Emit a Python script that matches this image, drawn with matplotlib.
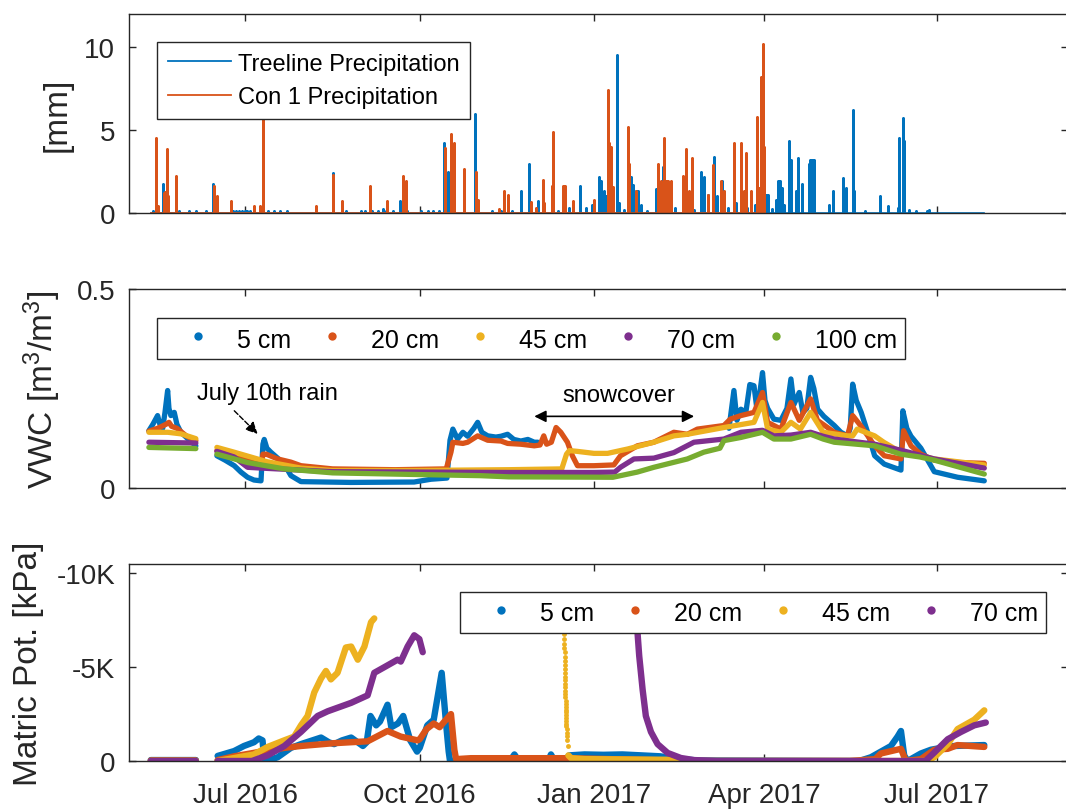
import numpy as np
import matplotlib
matplotlib.use("Agg")
import matplotlib.pyplot as plt
import matplotlib.dates as mdates
from matplotlib.lines import Line2D

plt.rcParams['font.family'] = ['Liberation Sans', 'DejaVu Sans']
plt.rcParams['mathtext.fontset'] = 'custom'
plt.rcParams['mathtext.rm'] = 'Liberation Sans'
plt.rcParams['mathtext.it'] = 'Liberation Sans:italic'

# All "day" values are days since this date
START = np.datetime64('2016-05-01')
nan = np.nan

# ---------------- Precipitation [mm] ----------------
treeline_record = [11.0, 450.2]
treeline_day = [12.0, 14.0, 17.3, 26.0, 31.0, 35.0, 40.0, 44.0, 54.5, 56.0, 57.5, 59.0, 60.5, 62.0,
                63.5, 73.0, 76.0, 79.0, 83.0, 107.3, 114.0, 122.0, 124.0, 128.0, 131.0, 133.5, 135.0,
                138.8, 142.6, 146.5, 153.6, 157.5, 160.0, 163.0, 166.0, 167.9, 176.5, 182.2, 191.0,
                196.0, 197.5, 201.6, 206.4, 210.8, 215.3, 218.0, 226.0, 232.0, 237.8, 241.0, 244.0,
                247.8, 248.7, 250.3, 251.5, 257.1, 258.3, 261.0, 264.5, 265.6, 267.2, 268.2, 270.0,
                273.0, 277.7, 279.5, 281.3, 283.0, 288.0, 294.0, 298.0, 301.5, 303.0, 305.0, 308.5,
                310.0, 312.4, 316.0, 320.0, 326.0, 330.0, 333.0, 335.8, 336.7, 339.0, 341.1, 342.4,
                343.2, 344.1, 345.1, 348.1, 349.0, 351.6, 352.5, 354.8, 358.3, 359.3, 360.3, 361.1,
                369.2, 371.0, 376.6, 378.0, 381.6, 382.4, 388.2, 396.1, 400.0, 405.3, 406.2, 408.0,
                408.8, 411.5, 415.0, 421.0, 422.0]
treeline_mm = [0.15, 0.12, 1.75, 0.10, 0.10, 0.10, 0.10, 1.75, 0.12, 0.12, 0.12, 0.12, 0.12, 0.12,
               0.12, 0.10, 0.10, 0.10, 0.10, 2.40, 0.10, 0.10, 0.10, 0.15, 0.15, 0.25, 0.10,
               0.10, 0.70, 0.10, 0.10, 0.10, 0.10, 0.15, 4.25, 2.45, 1.95, 5.96, 0.10,
               0.10, 0.90, 0.15, 1.35, 2.95, 0.70, 0.20, 0.15, 0.30, 1.60, 0.30, 0.50,
               2.15, 1.90, 1.30, 1.00, 9.50, 0.60, 0.20, 2.15, 1.70, 1.35, 1.35, 0.50,
               0.15, 1.45, 0.80, 2.75, 1.20, 0.30, 0.40, 0.20, 2.45, 2.20, 1.10, 3.35,
               1.00, 1.95, 0.30, 0.60, 0.30, 0.50, 0.30, 1.10, 1.10, 0.25, 0.80, 1.90,
               1.90, 1.50, 0.50, 4.35, 3.20, 1.35, 3.30, 1.75, 2.95, 3.20, 3.20, 3.20,
               0.50, 1.30, 2.10, 1.50, 6.20, 1.30, 0.15, 1.00, 0.45, 0.30, 4.50, 5.70,
               4.35, 0.20, 0.10, 0.15, 0.20]

con1_record = [11.0, 335.0]
con1_day = [14.0, 15.0, 18.0, 18.7, 19.7, 20.3, 24.3, 44.3, 45.9, 53.3, 65.6, 68.8, 70.4, 98.2,
            107.3, 111.8, 126.7, 135.7, 144.1, 145.7, 166.3, 169.5, 170.9, 176.5, 182.5, 183.6,
            194.8, 197.6, 199.4, 211.7, 214.4, 217.9, 218.7, 222.6, 223.5, 228.6, 229.7, 233.7,
            245.1, 252.2, 253.1, 254.0, 254.9, 262.8, 263.6, 267.2, 278.6, 280.4, 282.1, 283.0,
            283.9, 285.6, 291.8, 293.6, 295.1, 296.6, 305.0, 307.7, 312.0, 313.5, 318.7, 322.6,
            324.3, 325.2, 327.8, 331.0, 332.2, 333.2, 333.6, 334.0, 334.4, 334.8]
con1_mm = [4.50, 0.45, 1.20, 1.25, 3.85, 1.00, 2.25, 1.60, 1.05, 0.70, 0.45, 0.40, 5.80, 0.45,
           2.30, 0.70, 1.60, 0.70, 2.25, 1.95, 3.90, 4.75, 4.25, 2.65, 2.50, 0.80,
           0.25, 1.35, 1.10, 0.65, 0.30, 2.00, 0.60, 1.65, 4.90, 1.60, 1.60, 0.70,
           0.80, 7.40, 4.25, 4.00, 1.55, 5.20, 2.95, 1.30, 2.95, 1.90, 4.50, 1.90,
           1.90, 1.90, 2.25, 3.85, 1.35, 3.30, 1.10, 2.90, 1.95, 1.30, 4.25, 4.25,
           1.30, 3.60, 1.35, 5.80, 1.50, 8.20, 6.00, 10.20, 6.70, 4.00]

# ---------------- Volumetric water content [m3/m3] ----------------
vwc5_day = [10.0, 12.1, 14.6, 15.8, 17.3, 18.5, 19.9, 20.6, 21.6, 23.4, 24.8, 26.9, 30.5, 34.8, 40.0,
            45.9, 50.2, 55.1, 58.6, 62.1, 65.5, 69.2, 70.2, 70.9, 72.3, 74.4, 78.0, 81.5, 85.0, 90.3,
            116.7, 150.0, 158.9, 167.4, 169.0, 170.5, 173.0, 175.8, 178.3, 181.6, 183.6, 185.8, 188.9,
            193.2, 195.9, 199.4, 202.7, 206.4, 210.1, 213.5, 215.4, 260.0,
            316.3, 318.9, 320.5, 322.6, 325.2, 327.3, 329.5, 331.0, 332.6, 334.0, 335.3, 336.7, 340.0,
            343.7, 346.9, 349.0, 350.6, 353.4, 355.3, 357.4, 359.4, 361.1, 363.1, 366.4, 371.9, 375.4,
            378.9, 380.3, 381.6, 383.5, 386.1, 389.5, 393.2, 398.3, 405.3, 407.1, 408.1, 410.2, 412.4,
            417.6, 424.7, 437.0, 451.1]
vwc5 = [0.144, 0.160, 0.182, 0.160, 0.150, 0.190, 0.245, 0.200, 0.182, 0.190, 0.160, 0.140, 0.124, 0.106, nan,
        0.081, 0.070, 0.056, 0.040, 0.027, 0.020, 0.018, 0.110, 0.122, 0.100, 0.090, 0.075, 0.060, 0.031, 0.016,
        0.014, 0.015, 0.022, 0.025, 0.120, 0.148, 0.123, 0.140, 0.130, 0.150, 0.165, 0.140, 0.131,
        0.128, 0.130, 0.135, 0.122, 0.118, 0.122, 0.115, 0.115, nan,
        0.150, 0.245, 0.170, 0.198, 0.190, 0.260, 0.257, 0.200, 0.240, 0.290, 0.220, 0.200, 0.173,
        0.170, 0.200, 0.274, 0.210, 0.240, 0.190, 0.200, 0.278, 0.250, 0.198, 0.180, 0.157, 0.140,
        0.131, 0.150, 0.261, 0.220, 0.190, 0.140, 0.081, 0.060, 0.048, 0.045, 0.194, 0.150, 0.130,
        0.100, 0.041, 0.027, 0.018]

vwc20_day = [10.0, 14.6, 19.0, 20.6, 22.0, 24.8, 30.0, 34.8, 40.0,
             45.9, 55.1, 62.0, 69.5, 70.2, 72.0, 78.0, 85.0, 90.3, 107.0, 140.0, 167.0, 169.5, 170.5,
             175.8, 178.3, 183.6, 188.9, 195.9, 199.4, 206.4, 213.5, 216.5, 218.5, 220.0, 222.5, 225.0,
             227.5, 231.0, 233.6, 236.3, 245.0, 255.5, 259.0, 267.9, 276.6, 287.2, 294.3, 299.6, 313.6,
             317.0, 322.6, 329.5, 334.0, 336.7, 343.7, 349.0, 353.4, 359.4, 363.0, 371.9, 378.9, 381.6,
             386.1, 393.2, 398.3, 407.1, 408.5, 412.4, 417.6, 424.7, 437.0, 451.1]
vwc20 = [0.143, 0.150, 0.160, 0.165, 0.155, 0.150, 0.130, 0.119, nan,
         0.094, 0.081, 0.070, 0.061, 0.085, 0.085, 0.073, 0.065, 0.056, 0.048, 0.046, 0.048, 0.090, 0.115,
         0.112, 0.115, 0.131, 0.120, 0.118, 0.112, 0.110, 0.106, 0.108, 0.131, 0.110, 0.115, 0.152,
         0.140, 0.115, 0.081, 0.056, 0.056, 0.058, 0.081, 0.106, 0.115, 0.140, 0.135, 0.148, 0.157,
         0.173, 0.182, 0.190, 0.240, 0.165, 0.148, 0.215, 0.170, 0.224, 0.170, 0.140, 0.131, 0.182,
         0.155, 0.106, 0.081, 0.073, 0.144, 0.106, 0.085, 0.070, 0.064, 0.062]

vwc45_day = [10.0, 20.0, 27.0, 34.8, 40.0,
             45.9, 55.0, 72.4, 90.3, 107.0, 150.0, 200.0, 228.0, 230.5, 232.0, 236.3, 245.0, 252.2,
             262.8, 276.6, 287.2, 294.3, 313.6, 329.5, 334.0, 336.7, 343.7, 349.0, 354.0, 359.4, 366.0,
             378.9, 381.6, 384.0, 393.2, 398.0, 407.0, 417.6, 424.7, 451.1]
vwc45 = [0.140, 0.140, 0.136, 0.124, nan,
         0.102, 0.090, 0.066, 0.050, 0.044, 0.044, 0.046, 0.048, 0.085, 0.094, 0.092, 0.087, 0.087,
         0.098, 0.115, 0.131, 0.135, 0.152, 0.165, 0.215, 0.148, 0.140, 0.165, 0.148, 0.190, 0.140,
         0.131, 0.131, 0.148, 0.131, 0.115, 0.090, 0.080, 0.073, 0.058]

vwc70_day = [10.0, 34.8, 40.0,
             45.9, 55.0, 62.1, 69.5, 90.0, 107.0, 200.0, 245.0, 256.0, 259.0, 266.1, 276.6, 287.2,
             297.8, 313.6, 322.6, 334.0, 340.0, 349.0, 359.4, 366.0, 371.9, 393.2, 407.0, 424.7, 451.1]
vwc70 = [0.115, 0.113, nan,
         0.092, 0.078, 0.052, 0.050, 0.045, 0.041, 0.039, 0.039, 0.040, 0.052, 0.073, 0.075, 0.089,
         0.115, 0.123, 0.140, 0.145, 0.131, 0.133, 0.140, 0.130, 0.123, 0.110, 0.095, 0.073, 0.050]

vwc100_day = [10.0, 34.8, 40.0,
              45.9, 62.1, 81.5, 107.0, 150.0, 185.0, 200.0, 255.0, 267.9, 276.6, 294.3, 303.0, 311.5,
              313.6, 322.6, 334.0, 340.0, 349.0, 359.4, 366.0, 371.9, 393.2, 407.0, 417.0, 424.7, 451.1]
vwc100 = [0.102, 0.099, nan,
          0.085, 0.064, 0.048, 0.038, 0.034, 0.031, 0.028, 0.027, 0.040, 0.052, 0.073, 0.090, 0.100,
          0.119, 0.127, 0.140, 0.123, 0.123, 0.135, 0.123, 0.115, 0.106, 0.085, 0.078, 0.070, 0.035]

# ---------------- Matric potential [kPa] ----------------
mp5_day = [11.0, 34.8, 40.0,
           46.3, 55.0, 60.2, 65.5, 68.0, 70.0, 70.9, 72.0, 78.0, 85.0, 90.3, 100.9, 105.0, 107.8, 112.0,
           116.8, 123.0, 125.0, 127.0, 130.0, 132.0, 136.0, 138.0, 141.5, 144.3, 148.0, 151.6, 153.0,
           157.0, 160.4, 164.6, 167.0, 168.3, 169.0, 180.0, 201.0, 203.0, 205.0, 221.0, 222.3, 224.0,
           230.0, 232.0, 240.0, 250.0, 260.0, 270.0, 280.0, 290.0, 300.0, 385.0, 391.2, 396.5, 401.8,
           405.3, 407.1, 408.8, 410.6, 417.6, 422.9, 428.2, 435.2, 451.1]
mp5 = [-50, -50, nan,
       -270, -530, -800, -1000, -1200, -1100, -100, 0, -200, -700, -900, -1250, -1000, -900, -1100,
       -1250, -800, -1000, -2400, -1900, -2100, -3000, -1800, -2000, -2400, -1100, -500, -700,
       -1900, -2200, -4700, -1900, -500, 0, -20, -50, -350, -50, -50, -350, -50,
       -100, -300, -350, -330, -350, -300, -250, -100, -30, 0, -200, -500, -800,
       -1300, -1600, -300, 0, -400, -600, -700, -800, -850]

mp20_day = [11.0, 34.8, 40.0,
            46.3, 55.0, 69.2, 81.5, 90.3, 107.8, 125.5, 136.0, 143.0, 151.9, 153.0, 156.6, 160.4,
            163.5, 166.0, 169.5, 171.3, 172.2, 180.0, 230.0, 245.0, 270.0, 300.0, 380.0, 393.5, 396.5,
            407.1, 409.7, 417.6, 424.7, 431.8, 437.0, 451.1]
mp20 = [-30, -30, nan,
        -50, -250, -500, -700, -800, -950, -1050, -1600, -1300, -1100, -1160, -1700, -2000,
        -1800, -2100, -2500, -600, -100, -150, -150, -120, -60, 0, 0, -100, -400,
        -650, 0, -100, -600, -650, -850, -750]

mp45_day = [11.0, 34.8, 40.0,
            46.3, 65.5, 72.7, 81.5, 86.7, 90.3, 93.8, 97.3, 100.9, 103.5, 106.1, 109.6, 114.0, 116.8,
            120.3, 123.8, 127.3, 129.0, 180.0,
            231.5, 233.0, 240.0, 290.0, 300.0, 420.0, 424.7, 431.8, 437.0, 445.8, 451.1]
mp45 = [0, 0, nan,
        0, -350, -750, -1100, -1300, -1900, -2400, -3650, -4400, -4800, -4350, -4700, -6050, -6100,
        -5400, -6100, -7400, -7600, nan,
        -300, -150, -100, -60, 0, 0, -200, -900, -1700, -2200, -2700]

# 45 cm sensor recovering after the December thaw (sparse readings)
mp45_drop_day = [229.20, 229.24, 229.28, 229.32, 229.36, 229.40, 229.44, 229.48, 229.52, 229.56,
                 229.60, 229.64, 229.68, 229.72, 229.76, 229.80, 229.84, 229.88, 229.92, 229.96,
                 230.00, 230.04, 230.08, 230.12, 230.17, 230.22, 230.28, 230.34, 230.40, 230.48,
                 230.56, 230.66, 230.78, 230.92, 231.08]
mp45_drop = [-7500, -7250, -7000, -6750, -6500, -6260, -6020, -5790, -5560, -5340,
             -5120, -4910, -4700, -4500, -4300, -4110, -3920, -3740, -3560, -3390,
             -3220, -3060, -2900, -2740, -2590, -2440, -2290, -2140, -1990, -1840,
             -1680, -1510, -1330, -1100, -800]

mp70_day = [11.0, 34.8, 40.0,
            46.3, 64.4, 72.7, 81.5, 90.3, 99.1, 104.4, 116.8, 125.5, 129.0, 134.3, 137.8, 141.3, 143.0,
            146.6, 150.1, 152.8, 154.6, 200.0,
            267.8, 268.1, 268.9, 270.7, 272.4, 275.1, 278.6, 283.9, 290.9, 297.8, 310.0, 420.0,
            424.7, 431.8, 438.8, 445.8, 451.9]
mp70 = [0, 0, nan,
        0, 0, -300, -800, -1550, -2400, -2650, -3100, -3500, -4700, -5000, -5200, -5400, -5300,
        -6100, -6700, -6500, -5800, nan,
        -8500, -6700, -5600, -3800, -2400, -1550, -900, -430, -160, -50, 0, 0,
        -450, -1160, -1550, -1900, -2050]

# ---------------- Axes decoration ----------------
tick_dates = ['2016-07-01', '2016-10-01', '2017-01-01', '2017-04-01', '2017-07-01']
tick_labels = ['Jul 2016', 'Oct 2016', 'Jan 2017', 'Apr 2017', 'Jul 2017']
depth_labels = ['5 cm', '20 cm', '45 cm', '70 cm', '100 cm']

BLUE, ORANGE, YELLOW, PURPLE, GREEN = '#0072BD', '#D95319', '#EDB120', '#7E2F8E', '#77AC30'
DARK = '#262626'

base = mdates.date2num(START)


def dx(days):
    return base + np.asarray(days, dtype=float)


def spike_trace(days, vals, record):
    order = np.argsort(days)
    xs, ys = [record[0]], [0.0]
    for i in order:
        xs += [days[i], days[i], days[i]]
        ys += [0.0, vals[i], 0.0]
    xs.append(record[1])
    ys.append(0.0)
    return dx(xs), np.array(ys)


W, H = 1066, 812
fig = plt.figure(figsize=(W / 100, H / 100), dpi=100)


def box(left, top, right, bottom):
    return [left / W, 1 - bottom / H, (right - left) / W, (bottom - top) / H]


ax1 = fig.add_axes(box(129, 15, 1068, 214))
ax2 = fig.add_axes(box(129, 290, 1068, 489))
ax3 = fig.add_axes(box(129, 565, 1068, 762))

# --- precipitation
x, y = spike_trace(treeline_day, treeline_mm, treeline_record)
ax1.plot(x, y, color=BLUE, lw=1.9, label='Treeline Precipitation')
x, y = spike_trace(con1_day, con1_mm, con1_record)
ax1.plot(x, y, color=ORANGE, lw=1.9, label='Con 1 Precipitation')
ax1.set_ylim(0, 12)
ax1.set_yticks([0, 5, 10])
ax1.set_yticklabels(['0', '5', '10'])
ax1.set_ylabel('[mm]', fontsize=24, color=DARK)
leg1 = ax1.legend(loc='upper left', bbox_to_anchor=(0.0298, 0.859), borderaxespad=0,
                  fontsize=17, handlelength=2.67, handletextpad=0.3, borderpad=0.45,
                  labelspacing=0.5, fancybox=False, framealpha=1, edgecolor=DARK)
for h in leg1.get_lines():
    h.set_linewidth(1.3)

# --- volumetric water content
lw_v = 3.8
for d, v, c in [(vwc5_day, vwc5, BLUE), (vwc20_day, vwc20, ORANGE), (vwc45_day, vwc45, YELLOW),
                (vwc70_day, vwc70, PURPLE), (vwc100_day, vwc100, GREEN)]:
    ax2.plot(dx(d), v, color=c, lw=lw_v, solid_capstyle='round', solid_joinstyle='round')
ax2.set_ylim(0, 0.5)
ax2.set_yticks([0, 0.5])
ax2.set_yticklabels(['0', '0.5'])
ax2.set_ylabel(r'VWC [m$^3$/m$^3$]', fontsize=24, color=DARK)
handles = [Line2D([], [], ls='none', marker='o', ms=6, mew=0, color=c)
           for c in [BLUE, ORANGE, YELLOW, PURPLE, GREEN]]
ax2.legend(handles, depth_labels, loc='upper left', bbox_to_anchor=(0.0298, 0.854),
           borderaxespad=0, ncol=5, fontsize=18, handlelength=2.68, handleheight=1.16,
           handletextpad=0.22, columnspacing=0.3, borderpad=0.3, fancybox=False, framealpha=1,
           edgecolor=DARK)
ax2.annotate('July 10th rain', xy=(base + 35.4, 0.2236), fontsize=17, ha='left', va='baseline')
ax2.annotate('', xy=(base + 67.4, 0.136), xytext=(base + 55.1, 0.194),
             arrowprops=dict(arrowstyle='-|>,head_width=0.35,head_length=0.7', ls='--',
                             lw=1.0, color='k', shrinkA=0, shrinkB=0))
ax2.annotate('snowcover', xy=(base + 257.9, 0.219), fontsize=17, ha='center', va='baseline')
ax2.annotate('', xy=(base + 213.5, 0.18), xytext=(base + 297.9, 0.18),
             arrowprops=dict(arrowstyle='<|-|>,head_width=0.35,head_length=0.7',
                             lw=1.2, color='k', shrinkA=0, shrinkB=0))

# --- matric potential
lw_m = 4.6
for d, v, c in [(mp5_day, mp5, BLUE), (mp20_day, mp20, ORANGE), (mp45_day, mp45, YELLOW),
                (mp70_day, mp70, PURPLE)]:
    ax3.plot(dx(d), v, color=c, lw=lw_m, solid_capstyle='round', solid_joinstyle='round')
    if c == YELLOW:
        ax3.plot(dx(mp45_drop_day), mp45_drop, ls='none', marker='o', ms=3.5, mew=0, color=YELLOW)
ax3.set_ylim(0, -10500)
ax3.set_yticks([0, -5000, -10000])
ax3.set_yticklabels(['0', '-5K', '-10K'])
ax3.set_ylabel('Matric Pot. [kPa]', fontsize=24, color=DARK)
ax3.legend(handles[:4], depth_labels[:4], loc='upper left', bbox_to_anchor=(0.3525, 0.858),
           borderaxespad=0, ncol=4, fontsize=18, handlelength=2.68, handleheight=1.16,
           handletextpad=0.22, columnspacing=0.3, borderpad=0.3, fancybox=False, framealpha=1,
           edgecolor=DARK)

label_x = {ax1: (57 - 129) / 939, ax2: (42 - 129) / 939, ax3: (29 - 129) / 939}
for ax in (ax1, ax2, ax3):
    ax.set_xlim(base - 0.5, base + 495.3)
    ax.set_xticks(mdates.date2num(np.array(tick_dates, dtype='datetime64[D]')))
    ax.set_xticklabels(tick_labels)
    ax.tick_params(direction='in', length=5, width=1.0, top=True, right=True, colors=DARK,
                   labelsize=20)
    ax.tick_params(axis='y', pad=10)
    ax.tick_params(axis='x', pad=15)
    for s in ax.spines.values():
        s.set_color(DARK)
        s.set_linewidth(1.0)
    ax.yaxis.label.set_va('center')
    ax.yaxis.set_label_coords(label_x[ax], 0.5)
    if ax is not ax3:
        ax.tick_params(labelbottom=False)

fig.savefig('out.png', dpi=100)
